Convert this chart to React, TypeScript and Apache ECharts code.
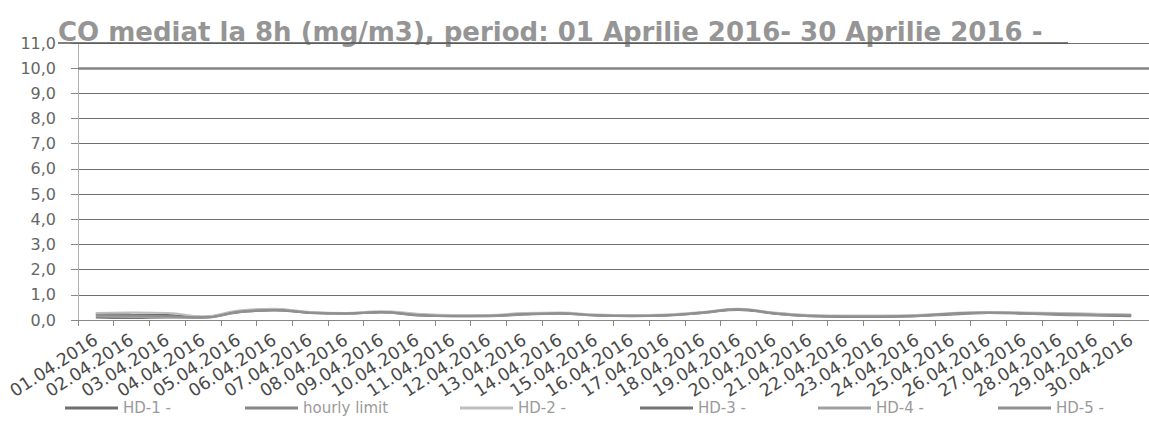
import React, { useEffect, useRef } from "react";
import * as echarts from "echarts";

const TITLE = "CO mediat la 8h (mg/m3), period: 01 Aprilie 2016- 30 Aprilie 2016 -";

const DATES = [
  "01.04.2016", "02.04.2016", "03.04.2016", "04.04.2016", "05.04.2016",
  "06.04.2016", "07.04.2016", "08.04.2016", "09.04.2016", "10.04.2016",
  "11.04.2016", "12.04.2016", "13.04.2016", "14.04.2016", "15.04.2016",
  "16.04.2016", "17.04.2016", "18.04.2016", "19.04.2016", "20.04.2016",
  "21.04.2016", "22.04.2016", "23.04.2016", "24.04.2016", "25.04.2016",
  "26.04.2016", "27.04.2016", "28.04.2016", "29.04.2016", "30.04.2016",
];

const HD1 = [0.25, 0.22, 0.2, 0.12, 0.35, 0.42, 0.3, 0.28, 0.32, 0.22, 0.18, 0.18, 0.25, 0.28, 0.2, 0.18, 0.2, 0.3, 0.42, 0.28, 0.18, 0.15, 0.15, 0.18, 0.25, 0.3, 0.28, 0.25, 0.22, 0.2];
const HD2 = [0.28, 0.3, 0.28, 0.15, 0.38, 0.45, 0.32, 0.28, 0.35, 0.25, 0.2, 0.2, 0.28, 0.3, 0.22, 0.2, 0.22, 0.32, 0.45, 0.3, 0.2, 0.18, 0.18, 0.2, 0.28, 0.32, 0.3, 0.28, 0.25, 0.22];
const HD3 = [0.1, 0.08, 0.1, 0.1, 0.3, 0.38, 0.28, 0.25, 0.3, 0.18, 0.15, 0.15, 0.22, 0.25, 0.18, 0.15, 0.18, 0.28, 0.4, 0.25, 0.15, 0.12, 0.12, 0.15, 0.22, 0.28, 0.25, 0.2, 0.18, 0.15];
const HD4 = [0.15, 0.12, 0.12, 0.08, 0.32, 0.4, 0.3, 0.25, 0.3, 0.2, 0.15, 0.16, 0.22, 0.26, 0.18, 0.16, 0.18, 0.28, 0.42, 0.26, 0.16, 0.14, 0.14, 0.16, 0.24, 0.28, 0.26, 0.22, 0.2, 0.18];
const HD5 = [0.2, 0.18, 0.15, 0.1, 0.33, 0.4, 0.28, 0.26, 0.32, 0.2, 0.16, 0.17, 0.24, 0.27, 0.19, 0.17, 0.19, 0.3, 0.43, 0.27, 0.17, 0.14, 0.14, 0.17, 0.26, 0.3, 0.27, 0.24, 0.21, 0.19];
const HOURLY_LIMIT = 10;

const SERIES_NAMES = ["HD-1 -", "hourly limit", "HD-2 -", "HD-3 -", "HD-4 -", "HD-5 -"];
const SERIES_COLORS = ["#6e6e6e", "#858585", "#bdbdbd", "#747474", "#a0a0a0", "#8f8f8f"];
const LEGEND_LEFT = [65, 245, 460, 640, 818, 998];

const FONT = "DejaVu Sans, Verdana, sans-serif";

export default function App() {
  const ref = useRef<HTMLDivElement>(null);

  useEffect(() => {
    if (!ref.current) return;
    const chart = echarts.init(ref.current, undefined, { renderer: "svg" });

    const lineData = [HD1, null, HD2, HD3, HD4, HD5];

    const series: any[] = SERIES_NAMES.map((name, i) => {
      const base: any = {
        name,
        type: "line",
        color: SERIES_COLORS[i],
        showSymbol: false,
        symbol: "none",
        smooth: true,
        lineStyle: { width: 2, color: SERIES_COLORS[i] },
        z: 3,
      };
      if (lineData[i]) {
        base.data = lineData[i];
      } else {
        base.data = [];
        base.markLine = {
          silent: true,
          symbol: "none",
          label: { show: false },
          lineStyle: { color: SERIES_COLORS[i], width: 2.5, type: "solid" },
          data: [{ yAxis: HOURLY_LIMIT }],
        };
      }
      return base;
    });

    const legends = SERIES_NAMES.map((name, i) => ({
      data: [name],
      left: LEGEND_LEFT[i],
      top: 400,
      padding: 0,
      icon: "rect",
      itemWidth: 53,
      itemHeight: 3,
      textStyle: { color: "#9a9a9a", fontSize: 15, fontFamily: FONT, lineHeight: 16 },
      selectedMode: false,
    }));

    chart.setOption({
      animation: false,
      backgroundColor: "#ffffff",
      title: {
        text: TITLE,
        left: 58,
        top: 19,
        padding: 0,
        textStyle: { color: "#959595", fontSize: 26, fontWeight: "bold", fontFamily: FONT },
      },
      legend: legends,
      grid: { left: 78, top: 43, width: 1080, height: 277, containLabel: false },
      xAxis: {
        type: "category",
        data: DATES,
        boundaryGap: true,
        axisLine: { show: true, lineStyle: { color: "#888", width: 1 } },
        axisTick: { show: true, alignWithLabel: false, interval: 0, length: 6, lineStyle: { color: "#888" } },
        axisLabel: {
          interval: 0,
          rotate: 33,
          margin: 18,
          color: "#4a4a4a",
          fontSize: 17.5,
          fontFamily: FONT,
        },
        splitLine: { show: false },
      },
      yAxis: {
        type: "value",
        min: 0,
        max: 11,
        interval: 1,
        axisLine: { show: true, lineStyle: { color: "#b0b0b0", width: 1 } },
        axisTick: { show: true, length: 7, lineStyle: { color: "#888" } },
        axisLabel: {
          margin: 22,
          color: "#666",
          fontSize: 16,
          fontFamily: FONT,
          formatter: (v: number) => v.toFixed(1).replace(".", ","),
        },
        splitLine: { show: true, lineStyle: { color: "#6f6f6f", width: 1 } },
      },
      graphic: [
        {
          type: "line",
          shape: { x1: 58, y1: 43, x2: 1068, y2: 43 },
          style: { stroke: "#555", lineWidth: 1.5 },
          z: 10,
        },
      ],
      series,
    });

    return () => chart.dispose();
  }, []);

  return (
    <div
      ref={ref}
      style={{ position: "absolute", left: 0, top: 0, width: 1149, height: 423 }}
    />
  );
}
